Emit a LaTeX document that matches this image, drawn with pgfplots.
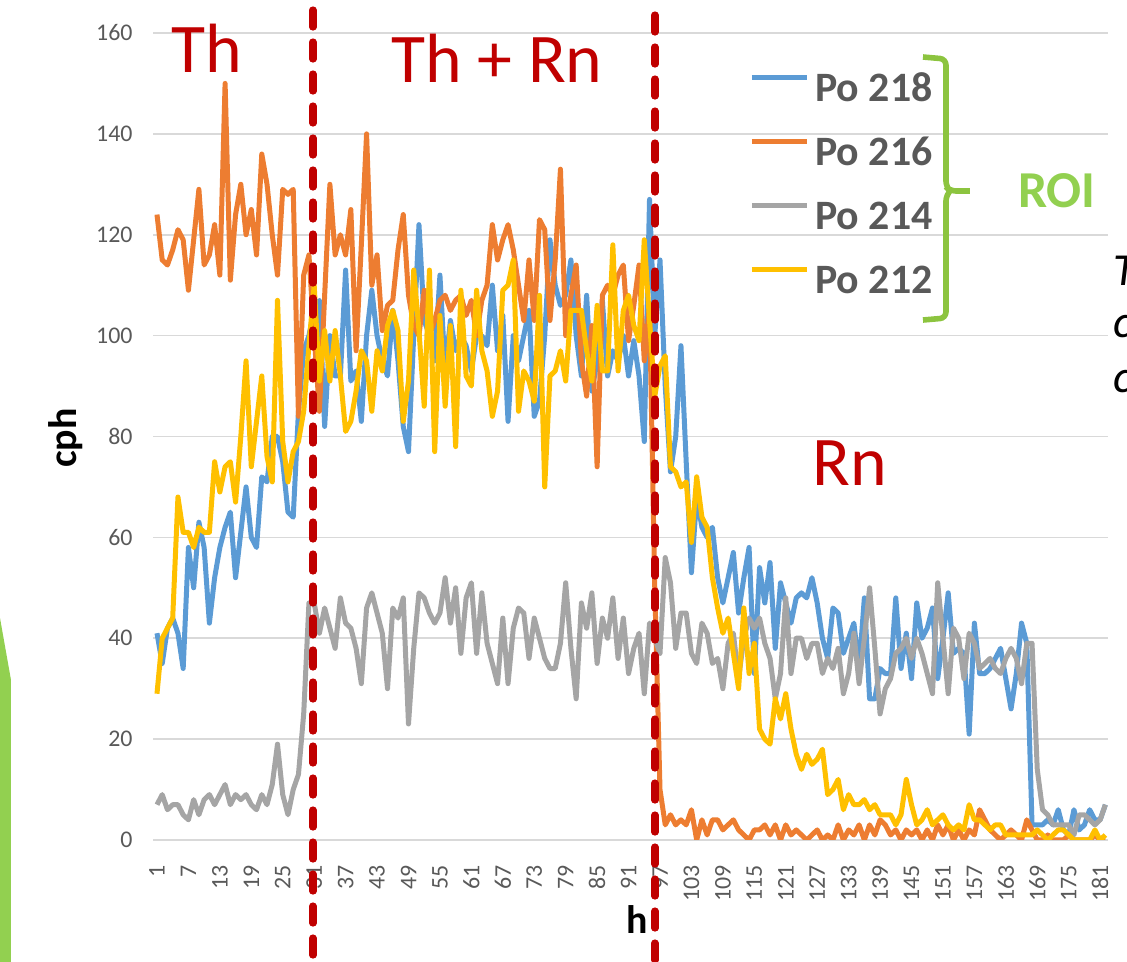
\documentclass[border=0pt]{standalone}
\usepackage{fontspec}
\setmainfont{Carlito}
\usepackage{pgfplots}
\usepackage{pgfplotstable}
\pgfplotsset{compat=1.18}
\definecolor{c218}{HTML}{5B9BD5}
\definecolor{c216}{HTML}{ED7D31}
\definecolor{c214}{HTML}{A5A5A5}
\definecolor{c212}{HTML}{FFC000}
\definecolor{tickgray}{HTML}{595959}
\definecolor{gridgray}{HTML}{D9D9D9}
\definecolor{slidered}{HTML}{C00000}
\definecolor{brk}{HTML}{8CC43F}
\definecolor{roi}{HTML}{92D050}

% h, Po 218, Po 216, Po 214, Po 212 (cph)
\pgfplotstableread{
h b o g y
1 41 124 7 29
2 35 115 9 40
3 42 114 6 42
4 44 117 7 44
5 41 121 7 68
6 34 119 5 61
7 58 109 4 61
8 50 119 8 58
9 63 129 5 62
10 58 114 8 61
11 43 116 9 61
12 52 122 7 75
13 58 112 9 69
14 62 150 11 74
15 65 111 7 75
16 52 124 9 67
17 61 130 8 80
18 70 120 9 95
19 60 125 7 74
20 58 116 6 83
21 72 136 9 92
22 71 130 7 76
23 80 120 11 71
24 80 112 19 107
25 75 129 9 79
26 65 128 5 71
27 64 129 10 77
28 85 84 13 79
29 97 112 25 85
30 100 116 47 98
31 105 100 47 110
32 107 85 41 91
33 82 108 46 101
34 100 130 42 91
35 92 116 38 101
36 92 120 48 92
37 113 116 43 81
38 91 125 42 83
39 93 97 38 89
40 83 118 31 97
41 100 140 46 95
42 109 110 49 85
43 100 116 45 97
44 95 101 41 93
45 92 106 30 102
46 105 107 46 105
47 95 117 44 101
48 82 124 48 83
49 77 108 23 91
50 100 102 38 113
51 122 100 49 101
52 103 109 48 86
53 100 100 45 113
54 95 103 43 77
55 112 107 45 104
56 93 108 52 86
57 103 105 43 102
58 97 107 50 78
59 100 108 37 109
60 98 104 48 92
61 93 107 51 90
62 100 100 37 109
63 100 107 49 97
64 98 110 39 93
65 110 122 35 84
66 97 115 31 89
67 104 119 44 109
68 83 122 31 110
69 100 117 42 115
70 95 110 46 85
71 100 103 45 93
72 105 115 36 91
73 84 103 44 87
74 87 123 40 108
75 100 121 36 70
76 119 103 34 92
77 110 115 34 93
78 106 133 39 97
79 108 100 51 91
80 115 108 38 105
81 100 114 28 105
82 92 95 47 105
83 108 88 42 97
84 89 102 49 91
85 95 74 35 106
86 107 108 44 93
87 92 110 40 93
88 97 108 48 118
89 95 112 36 93
90 100 114 44 105
91 92 99 33 108
92 99 106 38 102
93 92 114 41 99
94 79 95 29 119
95 127 106 43 103
96 100 50 40 88
97 115 10 37 94
98 90 3 56 96
99 73 5 51 74
100 80 3 38 73
101 98 4 45 70
102 75 3 45 71
103 53 6 37 59
104 68 0 35 72
105 62 4 43 64
106 60 1 41 62
107 62 4 35 52
108 52 4 36 46
109 47 2 30 41
110 52 3 39 44
111 57 4 41 37
112 45 2 32 30
113 52 1 40 46
114 58 0 44 33
115 33 2 42 39
116 54 2 44 22
117 47 3 39 20
118 55 1 36 19
119 38 3 28 28
120 51 0 33 24
121 47 3 48 29
122 43 1 33 22
123 48 2 40 17
124 49 1 40 14
125 48 0 36 17
126 52 1 39 15
127 47 2 39 16
128 40 0 33 18
129 36 1 36 9
130 46 0 34 10
131 45 3 38 12
132 37 0 29 6
133 40 2 33 9
134 43 1 41 7
135 34 3 31 7
136 48 0 40 8
137 28 3 50 6
138 28 1 38 7
139 34 4 25 5
140 33 3 30 5
141 33 1 32 5
142 48 2 37 3
143 34 0 38 5
144 41 2 40 12
145 32 1 36 7
146 47 2 40 3
147 40 0 37 4
148 42 2 33 6
149 46 0 29 3
150 32 3 51 4
151 40 1 40 5
152 49 3 29 3
153 37 0 42 2
154 38 2 40 3
155 37 0 32 2
156 21 2 41 7
157 43 1 39 4
158 33 6 34 4
159 33 4 35 3
160 34 2 36 2
161 36 1 34 3
162 38 0 33 3
163 32 1 36 1
164 26 2 38 1
165 33 1 36 1
166 43 0 31 1
167 39 4 39 1
168 3 2 39 1
169 3 0 14 2
170 3 0 6 1
171 4 1 5 0
172 3 0 3 1
173 6 0 3 2
174 2 0 3 2
175 1 1 3 1
176 6 0 1 0
177 2 0 5 0
178 3 0 5 0
179 6 0 4 0
180 4 1 3 2
181 4 0 4 0
182 7 0 7 1
}\cphdata

\begin{document}
\begin{tikzpicture}
\useasboundingbox (0,0) rectangle (563.5bp,481bp);
\begin{scope}[x=0.5bp,y=0.5bp]
  \fill[roi] (0,344) -- (11,282) -- (11,0) -- (0,0) -- cycle;
\end{scope}
\begin{axis}[
  at={(76.5bp,61bp)}, anchor=south west,
  width=477.5bp, height=403.5bp, scale only axis,
  xmin=0.24, xmax=182.5, ymin=0, ymax=160,
  axis line style={draw=none},
  xtick={1,7,...,181}, ytick={0,20,...,160},
  major tick length=0pt,
  ymajorgrids, grid style={gridgray, line width=0.8bp},
  tick label style={font=\fontsize{12}{12}\selectfont, text=tickgray},
  /pgf/number format/assume math mode=true,
  yticklabel style={anchor=east, inner sep=0pt, xshift=-10bp},
  xticklabel style={yshift=-12.5bp, rotate=90, anchor=east, inner sep=0pt},
  xlabel={h}, ylabel={cph},
  label style={font=\fontsize{20}{20}\bfseries},
  xlabel style={at={(axis description cs:0.507,-0.099)}, anchor=center},
  ylabel style={at={(axis description cs:-0.091,0.498)}, anchor=center},
  legend image code/.code={\draw[#1] (0bp,6.7bp) -- (27.5bp,6.7bp);},
  legend cell align=left,
  legend style={at={(0.624,0.952)}, anchor=north west, draw=none, fill=none,
    inner sep=0pt, row sep=13.5bp, text=tickgray,
    font=\fontsize{21}{21}\bfseries,
    nodes={inner sep=0pt, text height=14.5bp, text depth=4bp},
    /tikz/every odd column/.append style={column sep=3bp}},
  every axis plot/.append style={line width=2.5bp, line join=round},
]
\addplot[c218] table[x=h, y=b] {\cphdata};
\addlegendentry{Po 218}
\addplot[c216] table[x=h, y=o] {\cphdata};
\addlegendentry{Po 216}
\addplot[c214] table[x=h, y=g] {\cphdata};
\addlegendentry{Po 214}
\addplot[c212] table[x=h, y=y] {\cphdata};
\addlegendentry{Po 212}
\end{axis}
\begin{scope}[x=0.5bp,y=0.5bp]
  \draw[slidered, line width=3.6bp, line cap=round, dash pattern=on 8.5bp off 7.5bp]
    (313,952) -- (313,-20);
  \draw[slidered, line width=3.6bp, line cap=round, dash pattern=on 8.5bp off 7.5bp]
    (655,947) -- (655,-20);
  \node[slidered, font=\fontsize{35}{35}\selectfont, anchor=base, inner sep=0pt] at (207,890) {Th};
  \node[slidered, font=\fontsize{35}{35}\selectfont, anchor=base, inner sep=0pt] at (497,880) {Th + Rn};
  \node[slidered, font=\fontsize{35}{35}\selectfont, anchor=base, inner sep=0pt] at (850,477) {Rn};
  \draw[brk, line width=2.8bp, rounded corners=3bp]
    (923,905) -- (946,903) -- (946,775) -- (950,771) -- (970,771);
  \draw[brk, line width=2.8bp, rounded corners=3bp]
    (923,642) -- (946,644) -- (946,767) -- (950,771);
  \node[roi, font=\fontsize{26}{26}\bfseries, anchor=base, inner sep=0pt] at (1057,755) {ROI};
  \node[font=\fontsize{23}{23}\itshape, anchor=base west, inner sep=0pt] at (1113,677) {T};
  \node[font=\fontsize{23}{23}\itshape, anchor=base west, inner sep=0pt] at (1113,625) {c};
  \node[font=\fontsize{23}{23}\itshape, anchor=base west, inner sep=0pt] at (1113,570) {c};
\end{scope}
\end{tikzpicture}
\end{document}
